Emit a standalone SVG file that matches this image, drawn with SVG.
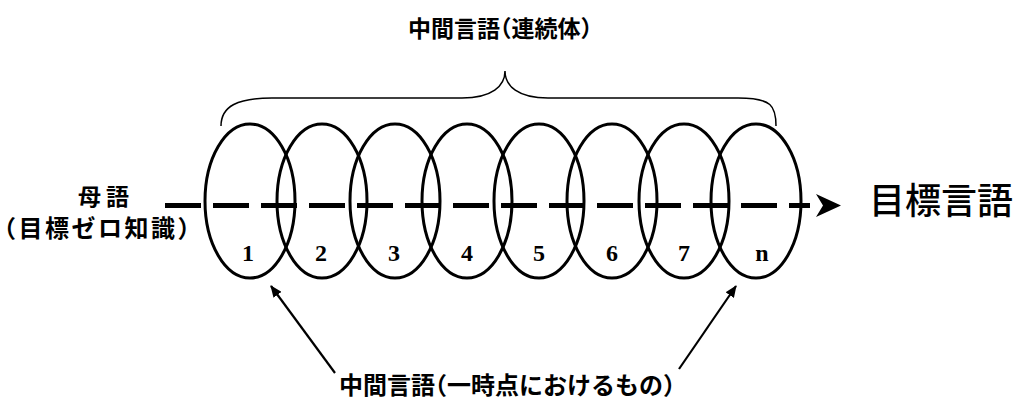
<svg xmlns="http://www.w3.org/2000/svg" width="1022" height="398" viewBox="0 0 1022 398">
<style>
.ell{fill:none;stroke:#000;stroke-width:3}
.num{font-family:"Liberation Serif",serif;font-size:24px;font-weight:bold;text-anchor:middle;fill:#000}
.lbl{font-family:"Noto Sans CJK JP","Noto Sans CJK SC",sans-serif;font-weight:bold;text-anchor:middle;fill:#000;font-feature-settings:"halt"}
.thin{fill:none;stroke:#000;stroke-width:2.2}
</style>
<defs>
<marker id="ah" viewBox="0 0 12 10" refX="11" refY="5" markerWidth="12" markerHeight="10" markerUnits="userSpaceOnUse" orient="auto">
<path d="M0,0 L12,5 L0,10 Z" fill="#000"/>
</marker>
</defs>
<rect width="1022" height="398" fill="#fff"/>

<g id="brace">
<path class="thin" style="stroke-width:1.5" d="M221,126 C221,106 238,98 272,98 L462,98 C492,98 505,86 505,71 C505,86 518,98 548,98 L738,98 C772,98 776,106 776,126"/>
</g>
<g id="label-continuum">
<text class="lbl" x="500" y="37" font-size="23">中間言語（連続体）</text>
</g>

<g id="ellipses">
<g id="stage-1"><ellipse class="ell" cx="250" cy="201" rx="45" ry="77"/><text class="num" x="248" y="261">1</text></g>
<g id="stage-2"><ellipse class="ell" cx="322" cy="201" rx="45" ry="77"/><text class="num" x="321" y="261">2</text></g>
<g id="stage-3"><ellipse class="ell" cx="395" cy="201" rx="45" ry="77"/><text class="num" x="394" y="261">3</text></g>
<g id="stage-4"><ellipse class="ell" cx="467" cy="201" rx="45" ry="77"/><text class="num" x="467" y="261">4</text></g>
<g id="stage-5"><ellipse class="ell" cx="539" cy="201" rx="45" ry="77"/><text class="num" x="539" y="261">5</text></g>
<g id="stage-6"><ellipse class="ell" cx="612" cy="201" rx="45" ry="77"/><text class="num" x="612" y="261">6</text></g>
<g id="stage-7"><ellipse class="ell" cx="684" cy="201" rx="45" ry="77"/><text class="num" x="684" y="261">7</text></g>
<g id="stage-n"><ellipse class="ell" cx="756" cy="201" rx="45" ry="77"/><text class="num" x="762" y="261">n</text></g>
</g>

<g id="connectors">
<line x1="165" y1="205.5" x2="810" y2="205.5" stroke="#000" stroke-width="5" stroke-dasharray="36 12"/>
<polygon points="816,194 841,205.5 816,217 823,205.5" fill="#000"/>
<line class="thin" x1="335" y1="373" x2="271" y2="286" marker-end="url(#ah)"/>
<line class="thin" x1="679" y1="369" x2="736" y2="286" marker-end="url(#ah)"/>
</g>

<g id="label-source">
<text class="lbl" x="106" y="205" font-size="23" letter-spacing="5">母語</text>
<text class="lbl" x="98" y="237" font-size="24" letter-spacing="2.5">（目標ゼロ知識）</text>
</g>
<g id="label-target">
<text class="lbl" x="941" y="214" font-size="36" style="font-weight:500">目標言語</text>
</g>
<g id="label-point">
<text class="lbl" x="507" y="394" font-size="24">中間言語（一時点におけるもの）</text>
</g>
</svg>
